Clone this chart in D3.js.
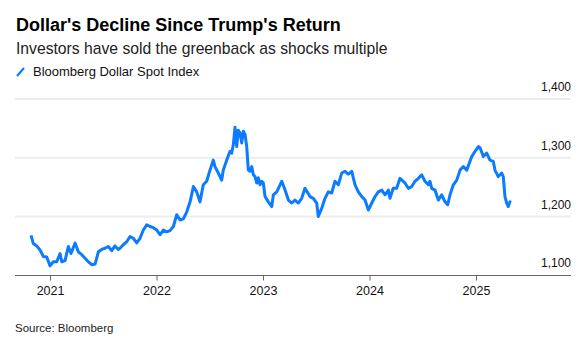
<!DOCTYPE html>
<html>
<head>
<meta charset="utf-8">
<script src="https://cdn.jsdelivr.net/npm/d3@7"></script>
<style>
	body { margin: 0; background: #fff; }
	svg { font-family: "Liberation Sans", Arial, Helvetica, sans-serif; }
</style>
</head>
<body>
<div id="chart"></div>
<script>
// Data (decimal year, index level)
const years = [
	2020.822, 2020.843, 2020.875, 2020.906, 2020.937, 2020.969, 2021.000, 2021.031, 2021.063, 2021.094,
	2021.110, 2021.141, 2021.172, 2021.197, 2021.235, 2021.266, 2021.298, 2021.329, 2021.360, 2021.392,
	2021.423, 2021.454, 2021.485, 2021.516, 2021.547, 2021.579, 2021.610, 2021.641, 2021.657, 2021.688,
	2021.720, 2021.751, 2021.782, 2021.814, 2021.845, 2021.876, 2021.908, 2021.939, 2021.970, 2022.002,
	2022.033, 2022.064, 2022.096, 2022.127, 2022.158, 2022.190, 2022.221, 2022.252, 2022.284, 2022.315,
	2022.346, 2022.377, 2022.408, 2022.439, 2022.471, 2022.502, 2022.533, 2022.549, 2022.580, 2022.612,
	2022.627, 2022.659, 2022.690, 2022.706, 2022.721, 2022.737, 2022.753, 2022.768, 2022.784, 2022.800,
	2022.815, 2022.831, 2022.847, 2022.862, 2022.878, 2022.894, 2022.909, 2022.925, 2022.941, 2022.956,
	2022.972, 2022.988, 2023.003, 2023.019, 2023.050, 2023.082, 2023.097, 2023.129, 2023.160, 2023.176,
	2023.207, 2023.238, 2023.270, 2023.300, 2023.331, 2023.363, 2023.394, 2023.425, 2023.441, 2023.472,
	2023.504, 2023.519, 2023.551, 2023.582, 2023.613, 2023.645, 2023.676, 2023.707, 2023.739, 2023.770,
	2023.801, 2023.833, 2023.864, 2023.895, 2023.927, 2023.958, 2023.989, 2024.021, 2024.052, 2024.083,
	2024.115, 2024.146, 2024.177, 2024.192, 2024.223, 2024.255, 2024.286, 2024.317, 2024.333, 2024.364,
	2024.396, 2024.427, 2024.458, 2024.490, 2024.521, 2024.552, 2024.568, 2024.584, 2024.615, 2024.646,
	2024.678, 2024.709, 2024.734, 2024.756, 2024.787, 2024.819, 2024.850, 2024.881, 2024.913, 2024.960,
	2024.991, 2025.022, 2025.038, 2025.069, 2025.100, 2025.131, 2025.162, 2025.178, 2025.209, 2025.241,
	2025.256, 2025.272, 2025.288, 2025.303, 2025.319, 2025.329
];
const dollarIndex = [
	1168, 1154, 1150, 1143, 1132, 1131, 1116, 1123, 1123, 1137,
	1123, 1125, 1149, 1137, 1155, 1140, 1135, 1129, 1123, 1118,
	1119, 1140, 1144, 1146, 1149, 1142, 1150, 1144, 1146, 1152,
	1157, 1166, 1163, 1155, 1163, 1177, 1186, 1183, 1181, 1177,
	1169, 1177, 1174, 1176, 1183, 1203, 1194, 1196, 1208, 1225,
	1251, 1242, 1225, 1254, 1260, 1279, 1296, 1285, 1274, 1262,
	1279, 1296, 1311, 1308, 1322, 1352, 1319, 1347, 1342, 1325,
	1345, 1340, 1319, 1279, 1277, 1285, 1271, 1268, 1257, 1266,
	1254, 1260, 1257, 1234, 1225, 1217, 1237, 1242, 1254, 1260,
	1245, 1228, 1223, 1228, 1223, 1231, 1248, 1239, 1234, 1231,
	1223, 1200, 1214, 1231, 1242, 1240, 1260, 1254, 1274, 1277,
	1272, 1277, 1254, 1242, 1234, 1228, 1211, 1223, 1234, 1242,
	1245, 1237, 1245, 1231, 1248, 1248, 1265, 1260, 1257, 1248,
	1251, 1260, 1265, 1271, 1260, 1254, 1260, 1248, 1245, 1228,
	1237, 1225, 1220, 1237, 1254, 1262, 1279, 1285, 1279, 1302,
	1311, 1319, 1317, 1302, 1308, 1296, 1294, 1279, 1268, 1274,
	1268, 1234, 1223, 1217, 1225, 1224
];
const yTicks = [1100, 1200, 1300, 1400];
const xTicks = [2021, 2022, 2023, 2024, 2025];

const title = "Dollar's Decline Since Trump's Return";
const subtitle = "Investors have sold the greenback as shocks multiple";
const seriesName = "Bloomberg Dollar Spot Index";
const source = "Source: Bloomberg";

const blue = "#0d7bff";
const width = 582, height = 343;

const svg = d3.select("#chart")
	.append("svg")
		.attr("width", width)
		.attr("height", height);

// Scales
const x = d3.scaleLinear().domain([2020.671, 2025.892]).range([15, 571]);
const y = d3.scaleLinear().domain([1100, 1400]).range([275.3, 99]);

// Header
svg.append("text")
	.attr("x", 16).attr("y", 31)
	.style("font-size", "18px")
	.style("font-weight", 700)
	.style("fill", "#000")
	.text(title);

svg.append("text")
	.attr("x", 16).attr("y", 54)
	.style("font-size", "15.7px")
	.style("fill", "#222")
	.text(subtitle);

// Legend
svg.append("line")
	.attr("x1", 17).attr("y1", 76)
	.attr("x2", 24).attr("y2", 68)
	.attr("stroke", blue)
	.attr("stroke-width", 2);
svg.append("text")
	.attr("x", 33).attr("y", 75.5)
	.style("font-size", "13px")
	.style("fill", "#111")
	.text(seriesName);

// Gridlines and y labels
svg.selectAll(".grid")
	.data(yTicks.filter(d => d > 1100)).enter()
	.append("line")
	.attr("class", "grid")
	.attr("x1", 15).attr("x2", 571)
	.attr("y1", d => y(d)).attr("y2", d => y(d))
	.attr("stroke", "#ededed")
	.attr("stroke-width", 2);

svg.selectAll(".ylabel")
	.data(yTicks).enter()
	.append("text")
	.attr("class", "ylabel")
	.attr("x", 571)
	.attr("y", d => y(d) - 8)
	.style("text-anchor", "end")
	.style("font-size", "12px")
	.style("fill", "#111")
	.text(d => d3.format(",")(d));

// Line
const valueline = d3.line()
	.x(d => x(d[0]))
	.y(d => y(d[1]));

svg.append("path")
	.datum(d3.zip(years, dollarIndex))
	.attr("d", valueline)
	.attr("fill", "none")
	.attr("stroke", blue)
	.attr("stroke-width", 3)
	.attr("stroke-linejoin", "round");

// X axis
const xAxis = d3.axisBottom(x)
	.tickValues(xTicks)
	.tickFormat(d3.format("d"))
	.tickSize(5)
	.tickPadding(6);

const gx = svg.append("g")
	.attr("class", "x axis")
	.attr("transform", "translate(0," + 275.5 + ")")
	.call(xAxis);
gx.select(".domain").attr("stroke", "#666").attr("d", "M15,0H571");
gx.selectAll(".tick line").attr("stroke", "#666");
gx.selectAll(".tick text")
	.style("font-size", "12.5px")
	.style("font-family", "\"Liberation Sans\", Arial, sans-serif")
	.style("fill", "#111");

// Source
svg.append("text")
	.attr("x", 15).attr("y", 332)
	.style("font-size", "11.5px")
	.style("fill", "#222")
	.text(source);
</script>
</body>
</html>
